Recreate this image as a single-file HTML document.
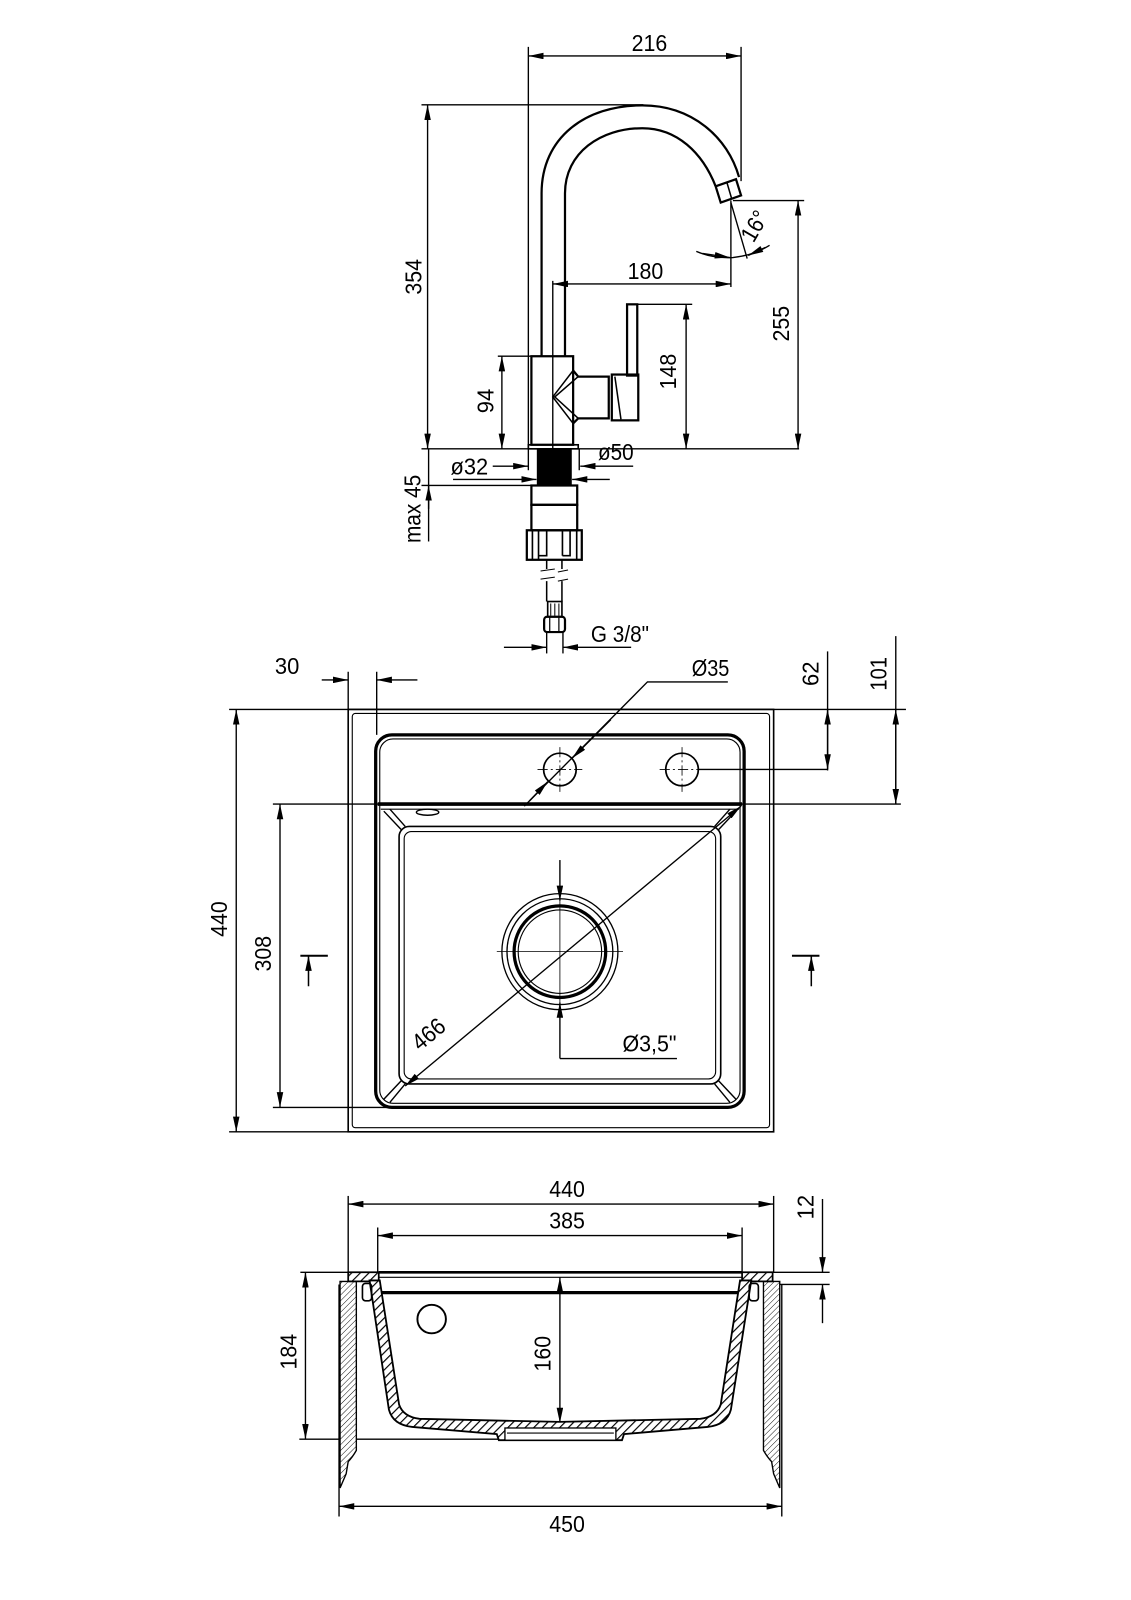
<!DOCTYPE html>
<html><head><meta charset="utf-8"><style>
html,body{margin:0;padding:0;background:#fff;}
svg{display:block}
text{font-family:"Liberation Sans",sans-serif;font-size:23px;fill:#000}
</style></head><body>
<svg width="1131" height="1600" viewBox="0 0 1111 1572" xmlns="http://www.w3.org/2000/svg">
<defs>
<marker id="a" viewBox="0 0 14 6" refX="14" refY="3" markerWidth="15" markerHeight="6.4" markerUnits="userSpaceOnUse" orient="auto-start-reverse"><path d="M0,0 L14,3 L0,6z" fill="#000"/></marker>
<pattern id="h1" width="6" height="6" patternUnits="userSpaceOnUse" patternTransform="rotate(45)"><rect width="6" height="6" fill="#fff"/><line x1="0" y1="0" x2="0" y2="6" stroke="#000" stroke-width="2.3"/></pattern>
<pattern id="h2" width="4" height="4" patternUnits="userSpaceOnUse" patternTransform="rotate(45)"><rect width="4" height="4" fill="#fff"/><line x1="0" y1="0" x2="0" y2="4" stroke="#000" stroke-width="0.9"/></pattern>
</defs>
<g fill="none" stroke="#000" stroke-width="1.35">
<!-- ===== FAUCET ===== -->
<line x1="519" y1="55" x2="728" y2="55" marker-start="url(#a)" marker-end="url(#a)"/>
<line x1="519" y1="46" x2="519" y2="440"/>
<line x1="728" y1="46" x2="728" y2="178"/>
<line x1="420" y1="103" x2="420" y2="441" marker-start="url(#a)" marker-end="url(#a)"/>
<line x1="414" y1="103" x2="632" y2="103"/>
<line x1="414" y1="441" x2="785" y2="441"/>
<path d="M532,350 L532,190 C532,135 575,103.5 631,103.5 C680,103.5 715,135 726,174" stroke-width="2.2"/>
<path d="M555,350 L555,190 C555,150 590,126 631,126 C665,126 690,150 703,183" stroke-width="2.2"/>
<polygon points="703,183 723,176 728,192 708,199" stroke-width="2.2"/>
<line x1="714" y1="179" x2="719" y2="196" stroke-width="1.5"/>
<rect x="522" y="350" width="41" height="87" stroke-width="2.2"/>
<rect x="519" y="437" width="49" height="4" stroke-width="1.6"/>
<line x1="543" y1="276" x2="543" y2="441"/>
<path d="M563,364 L568,370 L598,370 L598,411 L568,411 L563,416" stroke-width="2.2"/>
<path d="M563,364 L543,390 L563,416 M568,370 L545,390 L568,411" stroke-width="1.5"/>
<rect x="616" y="299" width="10" height="70" stroke-width="2.2"/>
<rect x="601" y="368" width="26" height="45" stroke-width="2.2"/>
<path d="M604,370 L610,412" stroke-width="1.5"/>
<line x1="543" y1="279" x2="718" y2="279" marker-start="url(#a)" marker-end="url(#a)"/>
<line x1="718" y1="197" x2="718" y2="282"/>
<line x1="718" y1="199" x2="734" y2="254"/>
<path d="M684,247 Q700,254 720,253 Q740,251 756,241"/>
<line x1="690" y1="249" x2="717" y2="253" marker-end="url(#a)"/>
<line x1="752" y1="243" x2="735" y2="251" marker-end="url(#a)"/>
<line x1="784" y1="197" x2="784" y2="441" marker-start="url(#a)" marker-end="url(#a)"/>
<line x1="720" y1="197" x2="790" y2="197"/>
<line x1="674" y1="299" x2="674" y2="441" marker-start="url(#a)" marker-end="url(#a)"/>
<line x1="626" y1="299" x2="680" y2="299"/>
<line x1="493" y1="350" x2="493" y2="441" marker-start="url(#a)" marker-end="url(#a)"/>
<line x1="489" y1="350" x2="522" y2="350"/>
<rect x="528" y="441" width="33" height="35" fill="#000"/>
<line x1="484" y1="458" x2="519" y2="458" marker-end="url(#a)"/>
<line x1="622" y1="458" x2="570" y2="458" marker-end="url(#a)"/>
<line x1="445" y1="471" x2="527" y2="471" marker-end="url(#a)"/>
<line x1="599" y1="471" x2="562" y2="471" marker-end="url(#a)"/>
<line x1="519" y1="441" x2="519" y2="462"/>
<line x1="569" y1="441" x2="569" y2="462"/>
<line x1="421" y1="441" x2="421" y2="532"/>
<line x1="421" y1="500" x2="421" y2="477" marker-end="url(#a)"/>
<line x1="414" y1="477" x2="526" y2="477"/>
<rect x="522" y="477" width="45" height="19" stroke-width="2.2"/>
<rect x="522" y="496" width="45" height="25" stroke-width="2.2"/>
<rect x="517.5" y="521" width="54" height="29" stroke-width="2.2"/>
<path d="M523,521 L523,550 M566.5,521 L566.5,550" stroke-width="1.6"/>
<path d="M529,550 L529,521 L537,521 L537,546 L529,546 M552.5,546 L552.5,521 L560,521 L560,546 L552.5,546" stroke-width="1.6"/>
<path d="M537,550 L537,559 M552,550 L552,559 M537,571 L537,591 M552,571 L552,591" stroke-width="1.5"/>
<path d="M531,561 L545,559 M548,562 L558,560 M531,569 L545,567 M548,571 L558,569" stroke-width="1"/>
<rect x="538" y="591" width="14" height="15" stroke-width="1.6"/>
<path d="M541,593 L541,605 M545,593 L545,605 M549,593 L549,605" stroke-width="1"/>
<rect x="534.5" y="606" width="20.5" height="15" rx="3" stroke-width="2.2"/>
<path d="M540,606 L540,621 M549,606 L549,621" stroke-width="1.2"/>
<line x1="537" y1="621" x2="537" y2="642"/>
<line x1="553" y1="621" x2="553" y2="642"/>
<line x1="495" y1="636" x2="537" y2="636" marker-end="url(#a)"/>
<line x1="620" y1="636" x2="553" y2="636" marker-end="url(#a)"/>

<!-- ===== TOP VIEW ===== -->
<rect x="342" y="697" width="418" height="415" stroke-width="1.6"/>
<rect x="346" y="701" width="410" height="407" rx="3" stroke-width="1.1"/>
<rect x="369" y="722" width="362" height="366" rx="16" stroke-width="3.2"/>
<rect x="373" y="726" width="354" height="358" rx="13" stroke-width="1.1"/>
<line x1="371" y1="790" x2="729" y2="790" stroke-width="3.6"/>
<line x1="374" y1="795" x2="726" y2="795" stroke-width="1.1"/>
<rect x="392" y="812" width="316" height="253" rx="10" stroke-width="1.6"/>
<rect x="397" y="817" width="306" height="243" rx="7" stroke-width="1.1"/>
<path d="M377,797 L394,815 M383,795 L398,812 M723,797 L706,815 M717,795 L702,812 M377,1080 L394,1062 M383,1083 L398,1065 M723,1080 L706,1062 M717,1083 L702,1065" stroke-width="1.4"/>
<ellipse cx="420" cy="798" rx="11" ry="3" stroke-width="1.4"/>
<circle cx="550" cy="756" r="16" stroke-width="1.7"/>
<circle cx="670" cy="756" r="16" stroke-width="1.7"/>
<path d="M550,734 L550,778 M528,756 L572,756 M670,734 L670,778 M648,756 L692,756" stroke-width="0.8" stroke-dasharray="10,3,2,3"/>
<line x1="686" y1="756" x2="813" y2="756"/>
<path d="M515,792 L636,670 L715,670"/>
<line x1="600" y1="707" x2="562" y2="745" marker-end="url(#a)"/>
<line x1="520" y1="787" x2="538" y2="768" marker-end="url(#a)"/>
<line x1="342" y1="697" x2="890" y2="697"/>
<line x1="813" y1="640" x2="813" y2="757"/>
<line x1="813" y1="727" x2="813" y2="697" marker-end="url(#a)"/>
<line x1="813" y1="727" x2="813" y2="756" marker-end="url(#a)"/>
<line x1="880" y1="625" x2="880" y2="790"/>
<line x1="880" y1="743" x2="880" y2="697" marker-end="url(#a)"/>
<line x1="880" y1="743" x2="880" y2="790" marker-end="url(#a)"/>
<line x1="268" y1="790" x2="885" y2="790"/>
<line x1="342" y1="660" x2="342" y2="697"/>
<line x1="370" y1="660" x2="370" y2="722"/>
<line x1="316" y1="668" x2="342" y2="668" marker-end="url(#a)"/>
<line x1="410" y1="668" x2="370" y2="668" marker-end="url(#a)"/>
<line x1="232" y1="697" x2="232" y2="1112" marker-start="url(#a)" marker-end="url(#a)"/>
<line x1="225" y1="697" x2="342" y2="697"/>
<line x1="225" y1="1112" x2="342" y2="1112"/>
<line x1="275" y1="790" x2="275" y2="1088" marker-start="url(#a)" marker-end="url(#a)"/>
<line x1="268" y1="1088" x2="400" y2="1088"/>
<line x1="295" y1="939" x2="322" y2="939" stroke-width="2"/>
<line x1="303" y1="969" x2="303" y2="939" marker-end="url(#a)" stroke-width="1.5"/>
<line x1="778" y1="939" x2="805" y2="939" stroke-width="2"/>
<line x1="797" y1="969" x2="797" y2="939" marker-end="url(#a)" stroke-width="1.5"/>
<circle cx="550" cy="935" r="57" stroke-width="1.3"/>
<circle cx="550" cy="935" r="52" stroke-width="1.3"/>
<circle cx="550" cy="935" r="45" stroke-width="3.2"/>
<circle cx="550" cy="935" r="41" stroke-width="1.1"/>
<line x1="488" y1="935" x2="612" y2="935" stroke-width="0.8"/>
<line x1="550" y1="845" x2="550" y2="885" marker-end="url(#a)"/>
<line x1="550" y1="1040" x2="550" y2="985" marker-end="url(#a)"/>
<line x1="550" y1="885" x2="550" y2="990" stroke-width="0.8"/>
<line x1="550" y1="1040" x2="665" y2="1040"/>
<line x1="398" y1="1067" x2="728" y2="792" marker-start="url(#a)" marker-end="url(#a)"/>

<!-- ===== SECTION ===== -->
<line x1="342" y1="1183" x2="760" y2="1183" marker-start="url(#a)" marker-end="url(#a)"/>
<line x1="342" y1="1175" x2="342" y2="1250"/>
<line x1="760" y1="1175" x2="760" y2="1250"/>
<line x1="371" y1="1214" x2="729" y2="1214" marker-start="url(#a)" marker-end="url(#a)"/>
<line x1="371" y1="1206" x2="371" y2="1250"/>
<line x1="729" y1="1206" x2="729" y2="1250"/>
<line x1="295" y1="1250" x2="815" y2="1250"/>
<line x1="760" y1="1262" x2="815" y2="1262"/>
<line x1="808" y1="1178" x2="808" y2="1250" marker-end="url(#a)"/>
<line x1="808" y1="1300" x2="808" y2="1262" marker-end="url(#a)"/>
<line x1="300" y1="1250" x2="300" y2="1414" marker-start="url(#a)" marker-end="url(#a)"/>
<line x1="294" y1="1414" x2="490" y2="1414"/>
<line x1="550" y1="1255" x2="550" y2="1398" marker-start="url(#a)" marker-end="url(#a)"/>
<line x1="333" y1="1262" x2="333" y2="1490"/>
<line x1="768" y1="1262" x2="768" y2="1490"/>
<line x1="333" y1="1480" x2="768" y2="1480" marker-start="url(#a)" marker-end="url(#a)"/>
<path d="M334,1259 L350,1259 L350,1425 Q346,1432 342,1436 L340,1448 L334,1462 Z" fill="url(#h2)"/>
<path d="M766,1259 L750,1259 L750,1425 Q754,1432 758,1436 L760,1448 L766,1462 Z" fill="url(#h2)"/>
<path d="M342,1250 L372,1250 L372,1258 L365,1259 L342,1259 Z" fill="url(#h1)" stroke-width="1.7"/>
<path d="M759,1250 L729,1250 L729,1258 L736,1259 L759,1259 Z" fill="url(#h1)" stroke-width="1.7"/>
<line x1="372" y1="1250" x2="729" y2="1250" stroke-width="2.6"/>
<line x1="372" y1="1255" x2="729" y2="1255" stroke-width="1.1"/>
<line x1="374" y1="1270" x2="727" y2="1270" stroke-width="3.2"/>
<path fill-rule="evenodd" fill="url(#h1)" stroke-width="1.8" d="M363,1258 L382,1385 Q386,1400 405,1402 L488,1409 L490,1415 L611,1415 L613,1409 L695,1402 Q714,1400 718,1385 L738,1258 L727,1258 L708,1380 Q704,1392 688,1394 L550,1397 L412,1394 Q396,1392 392,1380 L373,1258 Z"/>
<rect x="496" y="1403" width="109" height="12" fill="#fff" stroke-width="1.3"/>
<line x1="498" y1="1408" x2="603" y2="1408" stroke-width="1.1"/>
<rect x="356" y="1261" width="9" height="17" rx="3" stroke-width="1.6"/>
<rect x="736" y="1261" width="9" height="17" rx="3" stroke-width="1.6"/>
<circle cx="424" cy="1296" r="14" stroke-width="1.9"/>
</g>
<text x="638" y="50" text-anchor="middle" textLength="35" lengthAdjust="spacingAndGlyphs">216</text>
<text transform="rotate(-90 414 272)" x="414" y="272" text-anchor="middle" textLength="35" lengthAdjust="spacingAndGlyphs">354</text>
<text x="634" y="274" text-anchor="middle" textLength="35" lengthAdjust="spacingAndGlyphs">180</text>
<text transform="rotate(-60 748 226)" x="748" y="226" text-anchor="middle" textLength="31" lengthAdjust="spacingAndGlyphs">16°</text>
<text transform="rotate(-90 775 318)" x="775" y="318" text-anchor="middle" textLength="35" lengthAdjust="spacingAndGlyphs">255</text>
<text transform="rotate(-90 664 365)" x="664" y="365" text-anchor="middle" textLength="35" lengthAdjust="spacingAndGlyphs">148</text>
<text transform="rotate(-90 485 394)" x="485" y="394" text-anchor="middle" textLength="24" lengthAdjust="spacingAndGlyphs">94</text>
<text x="461" y="466" text-anchor="middle" textLength="37" lengthAdjust="spacingAndGlyphs">ø32</text>
<text x="605" y="452" text-anchor="middle" textLength="35" lengthAdjust="spacingAndGlyphs">ø50</text>
<text transform="rotate(-90 413 500)" x="413" y="500" text-anchor="middle" textLength="67" lengthAdjust="spacingAndGlyphs">max 45</text>
<text x="609" y="631" text-anchor="middle" textLength="57" lengthAdjust="spacingAndGlyphs">G 3/8"</text>
<text x="282" y="662" text-anchor="middle" textLength="24" lengthAdjust="spacingAndGlyphs">30</text>
<text x="698" y="664" text-anchor="middle" textLength="37" lengthAdjust="spacingAndGlyphs">Ø35</text>
<text transform="rotate(-90 804 662)" x="804" y="662" text-anchor="middle" textLength="24" lengthAdjust="spacingAndGlyphs">62</text>
<text transform="rotate(-90 871 662)" x="871" y="662" text-anchor="middle" textLength="33" lengthAdjust="spacingAndGlyphs">101</text>
<text transform="rotate(-90 223 903)" x="223" y="903" text-anchor="middle" textLength="35" lengthAdjust="spacingAndGlyphs">440</text>
<text transform="rotate(-90 266 937)" x="266" y="937" text-anchor="middle" textLength="35" lengthAdjust="spacingAndGlyphs">308</text>
<text x="638" y="1033" text-anchor="middle" textLength="53" lengthAdjust="spacingAndGlyphs">Ø3,5"</text>
<text transform="rotate(-40 426 1022)" x="426" y="1022" text-anchor="middle" textLength="35" lengthAdjust="spacingAndGlyphs">466</text>
<text x="557" y="1176" text-anchor="middle" textLength="35" lengthAdjust="spacingAndGlyphs">440</text>
<text x="557" y="1207" text-anchor="middle" textLength="35" lengthAdjust="spacingAndGlyphs">385</text>
<text transform="rotate(-90 799 1186)" x="799" y="1186" text-anchor="middle" textLength="24" lengthAdjust="spacingAndGlyphs">12</text>
<text transform="rotate(-90 291 1328)" x="291" y="1328" text-anchor="middle" textLength="35" lengthAdjust="spacingAndGlyphs">184</text>
<text transform="rotate(-90 541 1330)" x="541" y="1330" text-anchor="middle" textLength="35" lengthAdjust="spacingAndGlyphs">160</text>
<text x="557" y="1505" text-anchor="middle" textLength="35" lengthAdjust="spacingAndGlyphs">450</text>
</svg>
</body></html>
